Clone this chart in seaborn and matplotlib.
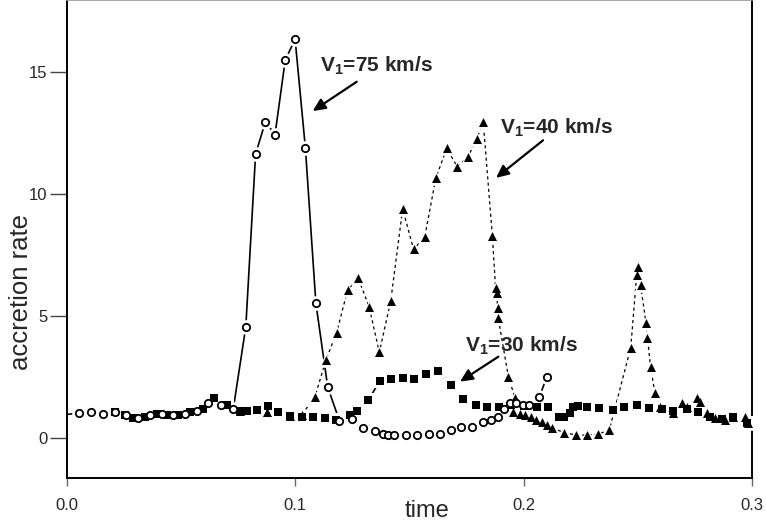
import seaborn as sns
import matplotlib.pyplot as plt

# V1 = 75 km/s (open circles, solid line)
t_75 = [0.0, 0.0053, 0.0105, 0.0159, 0.021, 0.026, 0.031, 0.0364, 0.0415, 0.0466, 0.0517,
        0.0568, 0.0619, 0.0674, 0.0728, 0.0783, 0.0826, 0.0869, 0.0911, 0.0956, 0.0999,
        0.1044, 0.109, 0.1142, 0.1193, 0.1247, 0.1298, 0.1349, 0.1382, 0.1407, 0.1433,
        0.1485, 0.1532, 0.1587, 0.1634, 0.168, 0.1726, 0.1772, 0.1821, 0.1856, 0.1886,
        0.1915, 0.194, 0.1966, 0.1996, 0.2025, 0.2068, 0.2101]
rate_75 = [0.97, 1.01, 1.05, 0.97, 1.05, 0.94, 0.83, 0.94, 0.98, 0.94, 0.98,
           1.1, 1.45, 1.35, 1.18, 4.55, 11.64, 12.96, 12.43, 15.5, 16.34,
           11.89, 5.52, 2.08, 0.71, 0.77, 0.4, 0.29, 0.16, 0.11, 0.11,
           0.12, 0.12, 0.15, 0.16, 0.33, 0.44, 0.44, 0.64, 0.74, 0.87,
           1.18, 1.42, 1.42, 1.35, 1.35, 1.67, 2.49]

# V1 = 40 km/s (filled triangles, dashed line)
t_40 = [0.0758, 0.0875, 0.0977, 0.1028, 0.1086, 0.1134, 0.1181, 0.1229, 0.1276, 0.1323,
        0.1368, 0.1418, 0.147, 0.1518, 0.1567, 0.1615, 0.1663, 0.1709, 0.1755, 0.1794,
        0.1823, 0.1863, 0.1877, 0.1882, 0.1886, 0.1889, 0.1933, 0.1962, 0.1952, 0.1985,
        0.2006, 0.203, 0.2055, 0.208, 0.2102, 0.2123, 0.2177, 0.2229, 0.2276, 0.2327,
        0.2375, 0.2469, 0.2495, 0.2502, 0.2512, 0.2536, 0.2542, 0.2556, 0.2575, 0.2597,
        0.2655, 0.2692, 0.2714, 0.2758, 0.2772, 0.2802, 0.2838, 0.2882, 0.2918, 0.2969,
        0.2984]
rate_40 = [1.12, 1.08, 0.92, 0.95, 1.69, 3.2, 4.32, 6.07, 6.54, 5.38,
           3.51, 5.63, 9.39, 7.73, 8.25, 10.64, 11.87, 11.12, 11.5, 12.25,
           12.94, 8.28, 6.13, 5.96, 5.32, 4.9, 2.51, 1.65, 1.05, 1.0,
           0.94, 0.85, 0.75, 0.65, 0.53, 0.42, 0.22, 0.12, 0.12, 0.16,
           0.33, 3.7, 6.68, 7.02, 6.27, 4.7, 4.11, 2.9, 1.83, 1.28,
           1.04, 1.45, 1.28, 1.63, 1.49, 1.01, 0.81, 0.74, 0.87, 0.87,
           0.6]

# V1 = 30 km/s (filled squares, solid line)
t_30 = [0.021, 0.0254, 0.029, 0.0342, 0.0393, 0.044, 0.0488, 0.0539, 0.0597, 0.0645,
        0.07, 0.0758, 0.0787, 0.0831, 0.0882, 0.0925, 0.0977, 0.1028, 0.1079, 0.113,
        0.1178, 0.1239, 0.1269, 0.132, 0.1371, 0.1419, 0.147, 0.152, 0.1572, 0.1626,
        0.168, 0.1736, 0.1791, 0.1841, 0.1893, 0.1943, 0.2, 0.2057, 0.2108, 0.2156,
        0.2177, 0.2203, 0.2217, 0.2239, 0.2276, 0.2331, 0.239, 0.2439, 0.2495, 0.255,
        0.2604, 0.2655, 0.2714, 0.2765, 0.2816, 0.2867, 0.2916, 0.2977]
rate_30 = [1.08, 0.94, 0.83, 0.87, 0.98, 0.94, 0.94, 1.05, 1.18, 1.63,
           1.35, 1.12, 1.12, 1.15, 1.31, 1.08, 0.9, 0.87, 0.85, 0.81,
           0.74, 0.94, 1.12, 1.56, 2.35, 2.4, 2.45, 2.4, 2.62, 2.76,
           2.17, 1.59, 1.35, 1.28, 1.28, 1.35, 1.3, 1.26, 1.26, 0.87,
           0.87, 1.01, 1.26, 1.31, 1.26, 1.22, 1.15, 1.26, 1.35, 1.22,
           1.18, 1.12, 1.18, 1.08, 0.87, 0.77, 0.87, 0.63]

x_ticks = [0.0, 0.1, 0.2, 0.3]
x_ticklabels = ["0.0", "0.1", "0.2", "0.3"]
y_ticks = [0, 5, 10, 15]

sns.set_style("ticks")
plt.rcParams["font.family"] = ["Liberation Sans", "DejaVu Sans"]
plt.rcParams["mathtext.fontset"] = "custom"
plt.rcParams["mathtext.rm"] = "Liberation Sans"
plt.rcParams["mathtext.bf"] = "Liberation Sans:bold"

fig = plt.figure(figsize=(7.66, 5.24), dpi=100)
ax = fig.add_axes([67 / 766, 1 - 478 / 524, 685 / 766, 478 / 524])

# lines
sns.lineplot(x=t_75, y=rate_75, sort=False, estimator=None, color="black", lw=1.2, ax=ax, zorder=2)
sns.lineplot(x=t_40, y=rate_40, sort=False, estimator=None, color="black", lw=0.9,
             linestyle=(0, (2.5, 2.5)), ax=ax, zorder=2)
sns.lineplot(x=t_30, y=rate_30, sort=False, estimator=None, color="black", lw=1.2, ax=ax, zorder=2)

# white halos so the lines stop short of the markers
sns.scatterplot(x=t_40, y=rate_40, marker="^", s=110, color="white", linewidth=0, ax=ax, zorder=3)
sns.scatterplot(x=t_30, y=rate_30, marker="s", s=95, color="white", linewidth=0, ax=ax, zorder=3)
sns.scatterplot(x=t_75[1:], y=rate_75[1:], marker="o", s=110, color="white", linewidth=0, ax=ax, zorder=3)

# markers
sns.scatterplot(x=t_40, y=rate_40, marker="^", s=42, color="black", linewidth=0, ax=ax, zorder=4)
sns.scatterplot(x=t_30, y=rate_30, marker="s", s=36, color="black", linewidth=0, ax=ax, zorder=5)
sns.scatterplot(x=t_75[1:], y=rate_75[1:], marker="o", s=28, facecolor="white",
                edgecolor="black", linewidth=1.3, ax=ax, zorder=6)

# annotations
arrow = dict(arrowstyle="-|>,head_length=0.75,head_width=0.35", color="black", lw=1.6,
             shrinkA=0, shrinkB=0)
ax.text(0.1108, 15.25, r"V$_\mathbf{1}$=75 km/s", fontsize=15, fontweight="bold", va="center")
ax.annotate("", xy=(0.1076, 13.4), xytext=(0.1269, 14.6), arrowprops=arrow)
ax.text(0.1896, 12.7, r"V$_\mathbf{1}$=40 km/s", fontsize=15, fontweight="bold", va="center")
ax.annotate("", xy=(0.1879, 10.66), xytext=(0.2085, 12.2), arrowprops=arrow)
ax.text(0.1743, 3.77, r"V$_\mathbf{1}$=30 km/s", fontsize=15, fontweight="bold", va="center")
ax.annotate("", xy=(0.1721, 2.31), xytext=(0.1889, 3.33), arrowprops=arrow)

ax.set_xlim(0, 0.3)
ax.set_ylim(-1.64, 17.95)
ax.set_xticks(x_ticks)
ax.set_xticklabels(x_ticklabels)
ax.set_yticks(y_ticks)
ax.tick_params(axis="y", direction="out", length=12, width=1, color="#444444", labelsize=12, pad=2)
ax.tick_params(axis="x", direction="out", length=5.5, width=1, color="#666666", labelsize=12, pad=9)

ax.set_xlabel("time", fontsize=17)
ax.xaxis.set_label_coords(0.526, -0.047)
ax.set_ylabel("accretion rate", fontsize=18.5)
ax.yaxis.set_label_coords(-0.05, 0.39)

for side in ["left", "bottom", "right"]:
    ax.spines[side].set_visible(True)
    ax.spines[side].set_color("black")
    ax.spines[side].set_linewidth(1.4)
ax.spines["top"].set_visible(True)
ax.spines["top"].set_color("#999999")
ax.spines["top"].set_linewidth(1.2)

fig.savefig("out.png", dpi=100)
